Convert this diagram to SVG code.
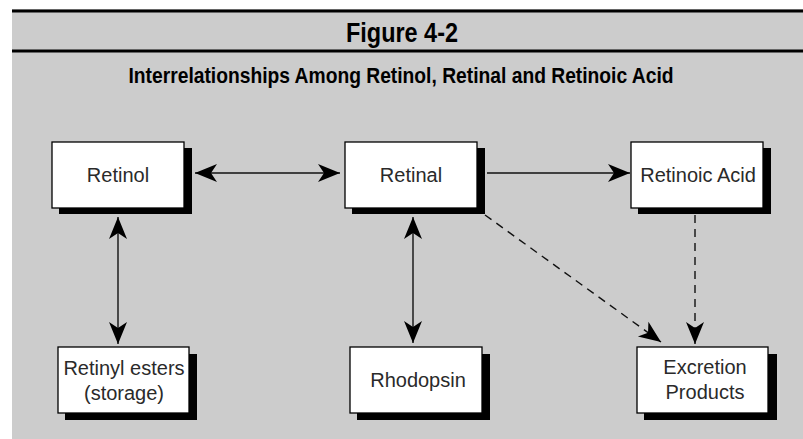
<svg xmlns="http://www.w3.org/2000/svg" width="803" height="439" viewBox="0 0 803 439">
  <style>
    .panel { fill: #cccccc; }
    .rule { stroke: #000; stroke-width: 3; }
    .title { font-family: "Liberation Sans", Arial, sans-serif; font-weight: bold; fill: #000; text-anchor: middle; }
    .box { fill: #fff; stroke: #000; stroke-width: 1.3; }
    .shadow { fill: #000; }
    .label { font-family: "Liberation Sans", Arial, sans-serif; font-size: 20px; fill: #2a2a2a; text-anchor: middle; }
    .link { stroke: #111; stroke-width: 1.4; fill: none; }
    .dashed { stroke-dasharray: 8 6; }
  </style>
  <defs>
    <marker id="head" viewBox="-23 -10 24 20" refX="0" refY="0" markerWidth="24" markerHeight="20" markerUnits="userSpaceOnUse" orient="auto-start-reverse">
      <path d="M0,0 L-22,-9 L-16,0 L-22,9 Z" fill="#000"/>
    </marker>
  </defs>

  <!-- page background and header rules -->
  <rect x="0" y="0" width="803" height="439" fill="#fff"/>
  <rect class="panel" x="12" y="9" width="791" height="430"/>
  <line class="rule" x1="12" y1="11" x2="803" y2="11"/>
  <line class="rule" x1="12" y1="51" x2="803" y2="51"/>

  <text class="title" x="402" y="42" font-size="27" textLength="112" lengthAdjust="spacingAndGlyphs">Figure 4-2</text>
  <text class="title" x="401" y="83" font-size="22" textLength="545" lengthAdjust="spacingAndGlyphs">Interrelationships Among Retinol, Retinal and Retinoic Acid</text>

  <!-- connectors -->
  <g id="connectors">
    <line class="link" x1="195" y1="173" x2="340" y2="173" marker-start="url(#head)" marker-end="url(#head)"/>
    <line class="link" x1="487" y1="173" x2="630" y2="173" marker-end="url(#head)"/>
    <line class="link" x1="118" y1="217" x2="118" y2="344" marker-start="url(#head)" marker-end="url(#head)"/>
    <line class="link" x1="413" y1="217" x2="413" y2="343" marker-start="url(#head)" marker-end="url(#head)"/>
    <line class="link dashed" x1="485" y1="215" x2="661" y2="342" marker-end="url(#head)"/>
    <line class="link dashed" x1="695" y1="215" x2="695" y2="344" marker-end="url(#head)"/>
  </g>

  <!-- nodes -->
  <g id="retinol">
    <rect class="shadow" x="59" y="148" width="133" height="66"/>
    <rect class="box" x="52" y="142" width="132" height="66"/>
    <text class="label" x="118" y="182">Retinol</text>
  </g>
  <g id="retinal">
    <rect class="shadow" x="352" y="148" width="133" height="66"/>
    <rect class="box" x="345" y="142" width="132" height="66"/>
    <text class="label" x="411" y="182">Retinal</text>
  </g>
  <g id="retinoic-acid">
    <rect class="shadow" x="638" y="148" width="133" height="66"/>
    <rect class="box" x="631" y="142" width="132" height="66"/>
    <text class="label" x="698" y="182">Retinoic Acid</text>
  </g>
  <g id="retinyl-esters">
    <rect class="shadow" x="65" y="354" width="132" height="66"/>
    <rect class="box" x="58" y="347" width="131" height="66"/>
    <text class="label" x="124" y="375">Retinyl esters</text>
    <text class="label" x="124" y="400">(storage)</text>
  </g>
  <g id="rhodopsin">
    <rect class="shadow" x="357" y="354" width="133" height="66"/>
    <rect class="box" x="350" y="347" width="132" height="66"/>
    <text class="label" x="418" y="387">Rhodopsin</text>
  </g>
  <g id="excretion-products">
    <rect class="shadow" x="644" y="354" width="133" height="66"/>
    <rect class="box" x="637" y="347" width="131" height="66"/>
    <text class="label" x="705" y="374">Excretion</text>
    <text class="label" x="705" y="399">Products</text>
  </g>
</svg>
